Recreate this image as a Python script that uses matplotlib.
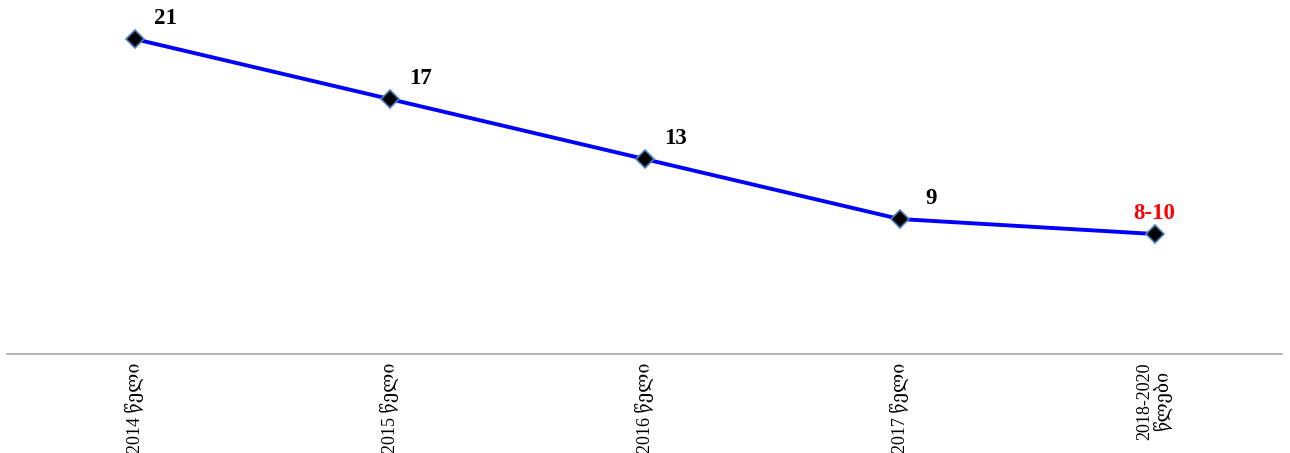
import matplotlib
matplotlib.use('Agg')
import matplotlib.pyplot as plt

# Data
categories = ['2014 წელი', '2015 წელი', '2016 წელი', '2017 წელი', '2018-2020\nწლები']
values = [21, 17, 13, 9, 8]
value_labels = ['21', '17', '13', '9', '8-10']
label_colors = ['black', 'black', 'black', 'black', 'red']

plt.rcParams['font.family'] = ['Liberation Serif', 'DejaVu Serif']

fig = plt.figure(figsize=(12.9, 4.53), dpi=100)
ax = fig.add_axes([7 / 1290, 99 / 453, 1275 / 1290, 354 / 453])

x = list(range(len(categories)))
ax.plot(x, values, color='#0000ff', lw=2.8, marker='D', markersize=9,
        markerfacecolor='black', markeredgecolor='#4f81bd', markeredgewidth=1.2,
        zorder=3)

for i, (v, lab, c) in enumerate(zip(values, value_labels, label_colors)):
    if i == len(values) - 1:
        ax.annotate(lab, (i, v), xytext=(0, 7), textcoords='offset points',
                    ha='center', va='bottom', fontsize=16.5, fontweight='bold', color=c)
    else:
        ax.annotate(lab, (i, v), xytext=(22.5, 15), textcoords='offset points',
                    ha='center', va='center', fontsize=16.5, fontweight='bold', color=c)

ax.set_xlim(-0.5, len(categories) - 0.5)
ax.set_ylim(0, 23.6)
ax.set_xticks(x)
ax.set_xticklabels(categories, rotation=90, fontsize=13, ha='center', va='top',
                   linespacing=1.0)
ax.tick_params(axis='x', length=0, pad=6)
ax.set_yticks([])
for s in ['top', 'left', 'right']:
    ax.spines[s].set_visible(False)
ax.spines['bottom'].set_color('#a6a6a6')
ax.spines['bottom'].set_linewidth(1.2)

fig.savefig('out.png', dpi=100)
